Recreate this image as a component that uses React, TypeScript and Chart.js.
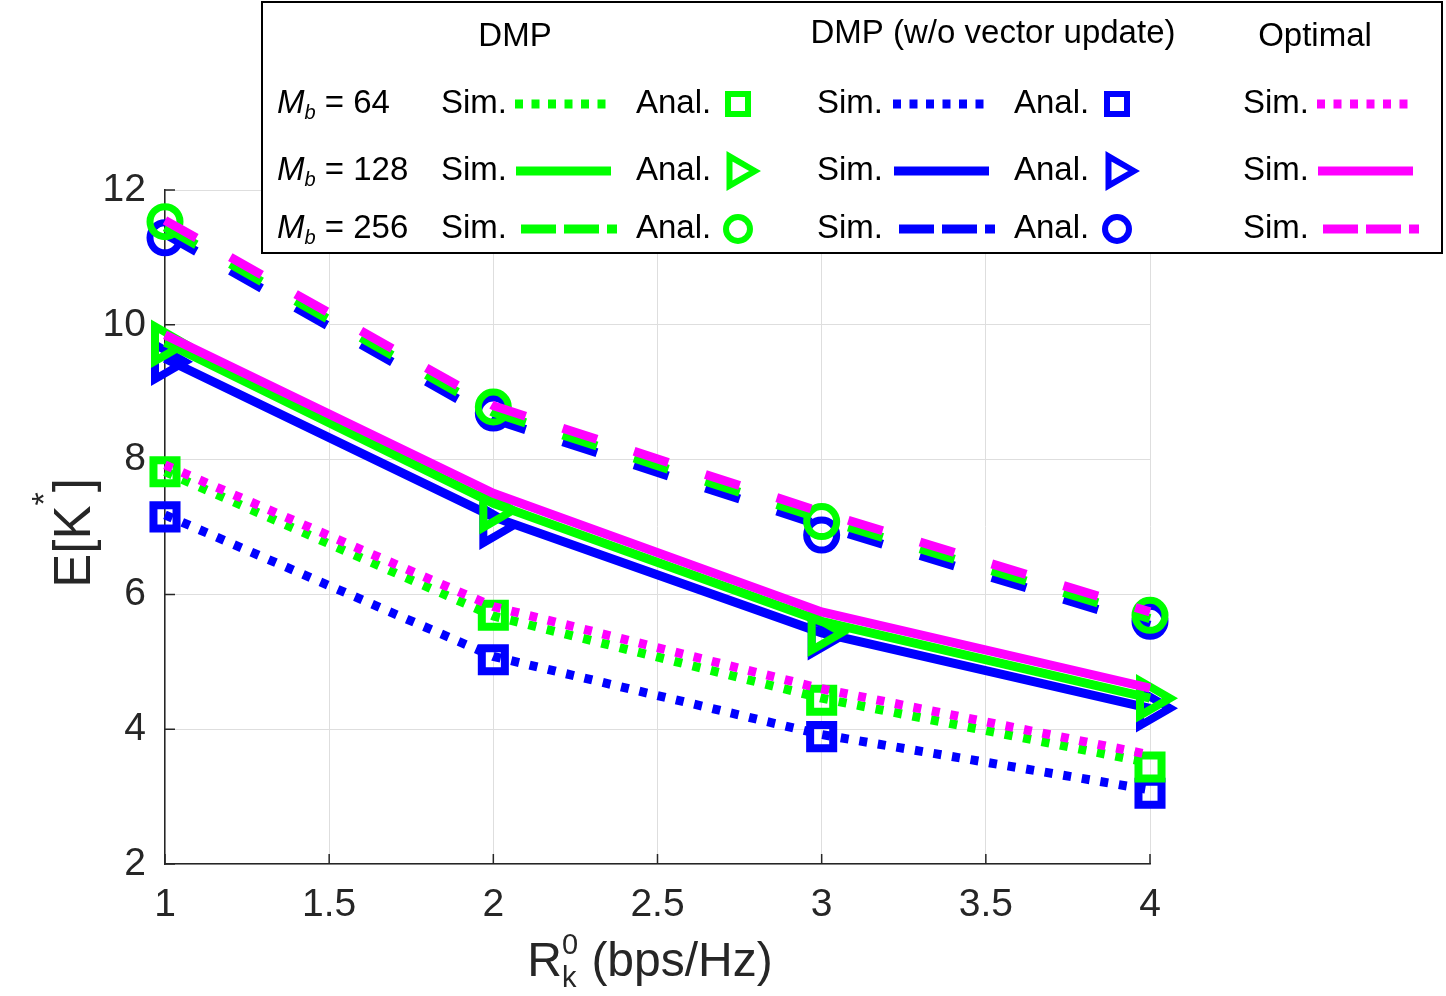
import React, { useEffect, useRef } from "react";
import { Chart, registerables } from "chart.js";

Chart.register(...registerables);

const FONT = '"Liberation Sans", Arial, Helvetica, sans-serif';

// ---------------- data ----------------
const xValues = [1, 2, 3, 4];
const xTicks = [1, 1.5, 2, 2.5, 3, 3.5, 4];
const yTicks = [2, 4, 6, 8, 10, 12];

// M_b = 64 (dotted / squares)
const optSim64 = [7.92, 5.82, 4.6, 3.62];
const dmpSim64 = [7.82, 5.68, 4.46, 3.5];
const dmpAnal64 = [7.82, 5.69, 4.43, 3.44];
const woSim64 = [7.18, 5.08, 3.92, 3.1];
const woAnal64 = [7.15, 5.03, 3.89, 3.05];

// M_b = 128 (solid / triangles)
const optSim128 = [9.85, 7.5, 5.74, 4.61];
const dmpSim128 = [9.74, 7.35, 5.6, 4.46];
const dmpAnal128 = [9.72, 7.25, 5.43, 4.46];
const woSim128 = [9.5, 7.15, 5.43, 4.31];
const woAnal128 = [9.45, 7.02, 5.38, 4.31];

// M_b = 256 (dashed / circles)
const optSim256 = [11.55, 8.8, 7.22, 5.74];
const dmpSim256 = [11.45, 8.7, 7.12, 5.64];
const dmpAnal256 = [11.53, 8.78, 7.08, 5.69];
const woSim256 = [11.35, 8.6, 7.02, 5.54];
const woAnal256 = [11.29, 8.69, 6.88, 5.6];

const GREEN = "#00ff00";
const BLUE = "#0000ff";
const MAGENTA = "#ff00ff";
const AXIS = "#262626";

const DOTTED = [8, 10.8];
const DASHED = [36, 39];
const LEG_DOTTED = [8, 8.5];
const LEG_DASHED = [35, 8];

const pts = (vals: number[]) => xValues.map((x, i) => ({ x, y: vals[i] }));

const simLine = (label: string, vals: number[], color: string, dash: number[]) => ({
  label,
  data: pts(vals),
  borderColor: color,
  backgroundColor: color,
  borderWidth: 9,
  borderDash: dash,
  borderCapStyle: "butt",
  borderJoinStyle: "miter",
  pointRadius: 0,
  pointHoverRadius: 0,
  fill: false,
  tension: 0,
  clip: false,
});

const analMarks = (label: string, vals: number[], color: string, style: string) => ({
  label,
  data: pts(vals),
  showLine: false,
  borderColor: color,
  backgroundColor: "rgba(0,0,0,0)",
  pointStyle: style === "square" ? "rect" : style === "triangle" ? "triangle" : "circle",
  pointRotation: style === "triangle" ? 90 : 0,
  pointRadius: style === "square" ? 16.3 : style === "triangle" ? 20 : 15,
  pointHoverRadius: style === "square" ? 16.3 : style === "triangle" ? 20 : 15,
  pointBorderWidth: style === "circle" ? 7 : 8,
  pointBorderColor: color,
  pointBackgroundColor: "rgba(0,0,0,0)",
  clip: false,
});

// ---------------- plugins ----------------
const inwardTicks = {
  id: "inwardTicks",
  beforeDatasetsDraw(chart: any) {
    const { ctx, chartArea, scales } = chart;
    ctx.save();
    ctx.strokeStyle = AXIS;
    ctx.lineWidth = 1.5;
    ctx.beginPath();
    xTicks.forEach((v) => {
      const x = scales.x.getPixelForValue(v);
      ctx.moveTo(x, chartArea.bottom);
      ctx.lineTo(x, chartArea.bottom - 10);
    });
    yTicks.forEach((v) => {
      const y = scales.y.getPixelForValue(v);
      ctx.moveTo(chartArea.left, y);
      ctx.lineTo(chartArea.left + 10, y);
    });
    ctx.stroke();
    ctx.restore();
  },
};

const titles = {
  id: "titles",
  afterDraw(chart: any) {
    const { ctx } = chart;
    ctx.save();
    ctx.fillStyle = AXIS;
    ctx.textBaseline = "alphabetic";
    ctx.textAlign = "left";

    // y title: E[K^*]
    const big = `51px ${FONT}`;
    const sup = `34px ${FONT}`;
    ctx.font = big;
    const w1 = ctx.measureText("E[K").width;
    const w3 = ctx.measureText("]").width;
    ctx.font = sup;
    const w2 = ctx.measureText("*").width;
    const total = w1 + w2 + w3;
    ctx.translate(90, 533);
    ctx.rotate(-Math.PI / 2);
    let cx = -total / 2;
    ctx.font = big;
    ctx.fillText("E[K", cx, 0);
    cx += w1;
    ctx.font = sup;
    ctx.fillText("*", cx, -35);
    cx += w2;
    ctx.font = big;
    ctx.fillText("]", cx, 0);
    ctx.setTransform(1, 0, 0, 1, 0, 0);

    // x title: R_k^0 (bps/Hz)
    const xb = `48px ${FONT}`;
    const xs = `29px ${FONT}`;
    ctx.font = xb;
    const rW = ctx.measureText("R").width;
    const restW = ctx.measureText(" (bps/Hz)").width;
    ctx.font = xs;
    const sW = Math.max(ctx.measureText("k").width, ctx.measureText("0").width);
    const tot = rW + sW + restW;
    const baseY = 976;
    let x = 650 - tot / 2;
    ctx.font = xb;
    ctx.fillText("R", x, baseY);
    x += rW;
    ctx.font = xs;
    ctx.fillText("k", x, baseY + 11);
    ctx.fillText("0", x, baseY - 22);
    x += sW;
    ctx.font = xb;
    ctx.fillText(" (bps/Hz)", x, baseY);
    ctx.restore();
  },
};

function legLine(ctx: any, x1: number, x2: number, y: number, color: string, dash: number[]) {
  ctx.save();
  ctx.strokeStyle = color;
  ctx.lineWidth = 9;
  ctx.lineCap = "butt";
  ctx.setLineDash(dash);
  ctx.beginPath();
  ctx.moveTo(x1, y);
  ctx.lineTo(x2, y);
  ctx.stroke();
  ctx.restore();
}

function legMarker(ctx: any, kind: string, x: number, y: number, color: string) {
  ctx.save();
  ctx.strokeStyle = color;
  ctx.lineWidth = 6;
  ctx.lineJoin = "miter";
  ctx.setLineDash([]);
  ctx.beginPath();
  if (kind === "square") {
    ctx.rect(x - 10, y - 10, 20, 20);
  } else if (kind === "triangle") {
    const R = 17;
    ctx.moveTo(x + R, y);
    ctx.lineTo(x - R / 2, y - R * 0.866);
    ctx.lineTo(x - R / 2, y + R * 0.866);
    ctx.closePath();
  } else {
    ctx.arc(x, y, 12, 0, Math.PI * 2);
  }
  ctx.stroke();
  ctx.restore();
}

const legendRows = [
  { mb: "64", y: 104, dash: LEG_DOTTED, marker: "square", x1: 515, x2: 606 },
  { mb: "128", y: 171, dash: [] as number[], marker: "triangle", x1: 516, x2: 611 },
  { mb: "256", y: 229, dash: LEG_DASHED, marker: "circle", x1: 521, x2: 617 },
];

const customLegend = {
  id: "customLegend",
  afterDraw(chart: any) {
    const { ctx } = chart;
    ctx.save();
    ctx.fillStyle = "#ffffff";
    ctx.fillRect(262, 2, 1180, 251);
    ctx.strokeStyle = "#000000";
    ctx.lineWidth = 2;
    ctx.strokeRect(262, 2, 1180, 251);

    ctx.fillStyle = "#000000";
    ctx.textBaseline = "middle";
    ctx.font = `33px ${FONT}`;
    ctx.textAlign = "center";
    ctx.fillText("DMP", 515, 37);
    ctx.fillText("DMP (w/o vector update)", 993, 34);
    ctx.fillText("Optimal", 1315, 37);

    ctx.textAlign = "left";
    legendRows.forEach((r) => {
      // M_b label
      let x = 277;
      ctx.font = `italic 33px ${FONT}`;
      ctx.fillText("M", x, r.y);
      x += ctx.measureText("M").width;
      ctx.font = `italic 20px ${FONT}`;
      ctx.fillText("b", x, r.y + 9);
      x += ctx.measureText("b").width;
      ctx.font = `33px ${FONT}`;
      ctx.fillText(" = " + r.mb, x, r.y);

      // DMP
      ctx.fillText("Sim.", 441, r.y);
      legLine(ctx, r.x1, r.x2, r.y, GREEN, r.dash);
      ctx.fillText("Anal.", 636, r.y);
      legMarker(ctx, r.marker, 738, r.y, GREEN);

      // DMP w/o vector update
      ctx.fillText("Sim.", 817, r.y);
      legLine(ctx, r.x1 + 378, r.x2 + 378, r.y, BLUE, r.dash);
      ctx.fillText("Anal.", 1014, r.y);
      legMarker(ctx, r.marker, 1117, r.y, BLUE);

      // Optimal
      ctx.fillText("Sim.", 1243, r.y);
      legLine(ctx, r.x1 + 802, r.x2 + 802, r.y, MAGENTA, r.dash);
    });
    ctx.restore();
  },
};

export default function App() {
  const ref = useRef<HTMLCanvasElement>(null);

  useEffect(() => {
    if (!ref.current) return;
    const datasets: any[] = [
      // top-most first
      simLine("Optimal Sim. 256", optSim256, MAGENTA, DASHED),
      simLine("Optimal Sim. 128", optSim128, MAGENTA, []),
      simLine("Optimal Sim. 64", optSim64, MAGENTA, DOTTED),
      analMarks("DMP Anal. 256", dmpAnal256, GREEN, "circle"),
      analMarks("DMP Anal. 128", dmpAnal128, GREEN, "triangle"),
      analMarks("DMP Anal. 64", dmpAnal64, GREEN, "square"),
      simLine("DMP Sim. 256", dmpSim256, GREEN, DASHED),
      simLine("DMP Sim. 128", dmpSim128, GREEN, []),
      simLine("DMP Sim. 64", dmpSim64, GREEN, DOTTED),
      analMarks("w/o Anal. 256", woAnal256, BLUE, "circle"),
      analMarks("w/o Anal. 128", woAnal128, BLUE, "triangle"),
      analMarks("w/o Anal. 64", woAnal64, BLUE, "square"),
      simLine("w/o Sim. 256", woSim256, BLUE, DASHED),
      simLine("w/o Sim. 128", woSim128, BLUE, []),
      simLine("w/o Sim. 64", woSim64, BLUE, DOTTED),
    ];

    const chart = new Chart(ref.current, {
      type: "line",
      data: { datasets },
      options: {
        responsive: false,
        animation: false,
        devicePixelRatio: 1,
        layout: { padding: { left: 0, right: 296, top: 190, bottom: 0 } },
        plugins: {
          legend: { display: false },
          tooltip: { enabled: false },
          title: { display: false },
        },
        events: [],
        scales: {
          x: {
            type: "linear",
            min: 1,
            max: 4,
            afterBuildTicks: (scale: any) => {
              scale.ticks = xTicks.map((v) => ({ value: v }));
            },
            afterFit: (scale: any) => {
              scale.height = 132;
            },
            ticks: {
              autoSkip: false,
              maxRotation: 0,
              padding: 18,
              color: AXIS,
              font: { family: FONT, size: 39 },
              callback: (v: any) => String(v),
            },
            grid: { color: "#dedede", lineWidth: 1, drawTicks: false },
            border: { display: true, color: AXIS, width: 1.5 },
          },
          y: {
            type: "linear",
            min: 2,
            max: 12,
            afterBuildTicks: (scale: any) => {
              scale.ticks = yTicks.map((v) => ({ value: v }));
            },
            afterFit: (scale: any) => {
              scale.width = 165;
            },
            ticks: {
              autoSkip: false,
              padding: 19,
              color: AXIS,
              font: { family: FONT, size: 39 },
              callback: (v: any) => String(v),
            },
            grid: { color: "#dedede", lineWidth: 1, drawTicks: false },
            border: { display: true, color: AXIS, width: 1.5 },
          },
        },
      } as any,
      plugins: [inwardTicks, titles, customLegend],
    });
    return () => chart.destroy();
  }, []);

  return (
    <div style={{ position: "absolute", left: 0, top: 0, width: 1446, height: 996, background: "#ffffff" }}>
      <canvas ref={ref} width={1446} height={996} style={{ display: "block" }} />
    </div>
  );
}
